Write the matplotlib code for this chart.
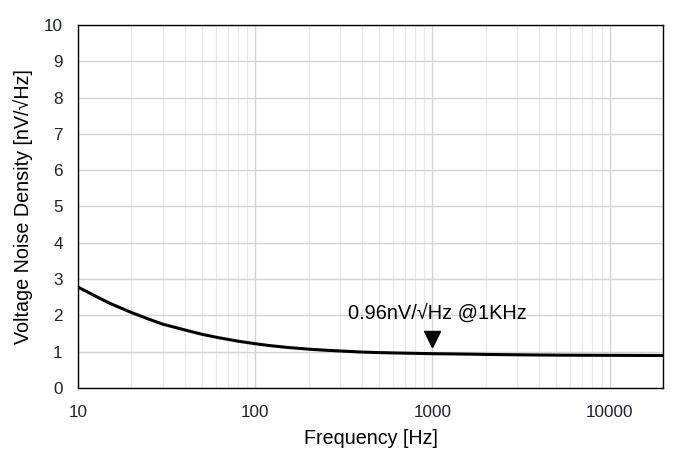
import matplotlib
matplotlib.use("Agg")
import matplotlib.pyplot as plt
from matplotlib.ticker import FixedLocator, LogLocator, NullFormatter

plt.rcParams['font.family'] = ['Liberation Sans', 'DejaVu Sans']

freq = [10, 12, 15, 20, 25, 30, 40, 50, 60, 70, 80, 100, 120, 150, 200, 250, 300, 400, 500,
        700, 1000, 1500, 2000, 3000, 5000, 10000, 20000]
noise = [2.78, 2.58, 2.34, 2.08, 1.90, 1.76, 1.60, 1.48, 1.40, 1.34, 1.29, 1.22, 1.17, 1.12,
         1.07, 1.04, 1.02, 0.99, 0.975, 0.96, 0.945, 0.935, 0.925, 0.915, 0.905, 0.90, 0.895]
x_ticks = [10, 100, 1000, 10000]
x_tick_labels = ["10", "100", "1000", "10000"]
y_ticks = list(range(0, 11))
marker_x = 1000
marker_y = 1.34
label_text = "0.96nV/\u221aHz @1KHz"

fig = plt.figure(figsize=(6.8, 4.54), dpi=100)
ax = fig.add_axes([78/680, 1 - 388/454, (663-78)/680, (388-25)/454])

ax.set_xscale('log')
ax.set_xlim(10, 20000)
ax.set_ylim(0, 10)

ax.xaxis.set_major_locator(FixedLocator(x_ticks))
ax.set_xticklabels(x_tick_labels)
ax.xaxis.set_minor_locator(LogLocator(base=10, subs=range(2, 10), numticks=20))
ax.xaxis.set_minor_formatter(NullFormatter())
ax.set_yticks(y_ticks)

ax.grid(which='major', axis='x', color='#d4d4d4', linewidth=1.0)
ax.grid(which='minor', axis='x', color='#e9e9e9', linewidth=0.9)
ax.grid(which='major', axis='y', color='#d4d4d4', linewidth=1.0)
ax.set_axisbelow(True)

ax.plot(freq, noise, color='black', linewidth=2.2, solid_joinstyle='round')

ax.plot([marker_x], [marker_y], marker='v', color='black', markersize=11, linestyle='none')
ax.text(marker_x * 1.06, 2.06, label_text, ha='center', va='center', fontsize=14.4, color='black')

for s in ax.spines.values():
    s.set_color('black')
    s.set_linewidth(1.0)

ax.tick_params(axis='both', which='both', length=0, labelsize=12.3, colors='#1e2230')
ax.tick_params(axis='x', pad=12)
ax.tick_params(axis='y', pad=11)

ax.set_xlabel("Frequency [Hz]", fontsize=14.2, labelpad=7)
ax.set_ylabel("Voltage Noise Density [nV/\u221aHz]", fontsize=14.2, labelpad=8)

fig.savefig("out.png", dpi=100)
